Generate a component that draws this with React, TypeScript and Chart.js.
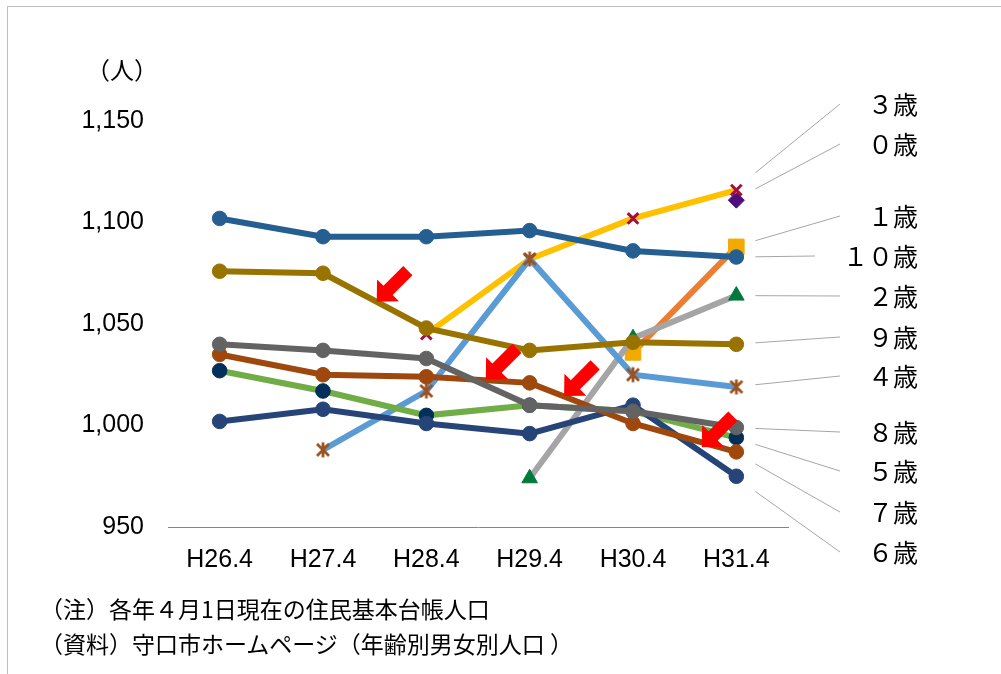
import React, { useEffect, useRef } from 'react';
import { Chart, registerables } from 'chart.js';

Chart.register(...registerables);

// ---- data ----
const categories = ['H26.4', 'H27.4', 'H28.4', 'H29.4', 'H30.4', 'H31.4'];
const age10 = [1102, 1093, 1093, 1096, 1086, 1083];
const age9 = [1076, 1075, 1048, 1037, 1041, 1040];
const age8 = [1040, 1037, 1033, 1010, 1007, 999];
const age7 = [1035, 1025, 1024, 1021, 1001, 987];
const age6 = [1002, 1008, 1001, 996, 1010, 975];
const age5 = [1027, 1017, 1005, 1010, 1007, 994];
const age4 = [null, 988, 1017, 1082, 1025, 1019];
const age3 = [null, null, 1045, 1082, 1102, 1116];
const age2 = [null, null, null, 974, 1043, 1064];
const age1 = [null, null, null, null, 1036, 1088];
const age0 = [null, null, null, null, null, 1111];

const yTicks = [950, 1000, 1050, 1100, 1150];

// end labels (text, which series) in the order they are stacked on the right
const endLabels = ['３歳', '０歳', '１歳', '１０歳', '２歳', '９歳', '４歳', '８歳', '５歳', '７歳', '６歳'];
const endLabelSeries = ['3歳', '0歳', '1歳', '10歳', '2歳', '9歳', '4歳', '8歳', '5歳', '7歳', '6歳'];

// red arrow annotations: tip position (category index, value)
const arrowCat = [1.52, 2.575, 3.333, 4.666];
const arrowVal = [1061, 1022.7, 1014.5, 989.3];

// ---- layout (pixels) ----
const LABEL_Y = [104, 144, 216, 256, 296, 337, 376, 432, 471, 512, 552];
const LABEL_RIGHT = 918;

function makeAsterisk(color: string) {
  const c = document.createElement('canvas');
  c.width = 18;
  c.height = 18;
  const g = c.getContext('2d')!;
  g.strokeStyle = color;
  g.lineWidth = 2.8;
  g.lineCap = 'butt';
  g.beginPath();
  g.moveTo(9, 1.5);
  g.lineTo(9, 16.5);
  g.moveTo(3, 3);
  g.lineTo(15, 15);
  g.moveTo(15, 3);
  g.lineTo(3, 15);
  g.stroke();
  return c;
}

function series(label: string, data: (number | null)[], lineColor: string, pointColor: string, pointStyle: any, radius: number, pbw = 1) {
  return {
    label,
    data,
    borderColor: lineColor,
    backgroundColor: pointColor,
    borderWidth: 6,
    pointStyle,
    pointRadius: radius,
    pointHoverRadius: radius,
    pointBackgroundColor: pointColor,
    pointBorderColor: pointColor,
    pointBorderWidth: pbw,
    tension: 0,
    fill: false,
  };
}

export default function App() {
  const ref = useRef<HTMLCanvasElement>(null);

  useEffect(() => {
    const asterisk = makeAsterisk('#9C5220');
    const datasets = [
      series('10歳', age10, '#255E91', '#255E91', 'circle', 7.3),
      series('9歳', age9, '#997300', '#997300', 'circle', 7.3),
      series('8歳', age8, '#636363', '#636363', 'circle', 7.3),
      series('7歳', age7, '#9E480E', '#9E480E', 'circle', 7.3),
      series('6歳', age6, '#264478', '#264478', 'circle', 7.3),
      series('5歳', age5, '#70AD47', '#022F5A', 'circle', 7.3),
      series('4歳', age4, '#5B9BD5', '#9C5220', asterisk, 9),
      series('3歳', age3, '#FFC000', '#A3103F', 'crossRot', 7.5, 3),
      series('2歳', age2, '#A5A5A5', '#00793A', 'triangle', 9),
      series('1歳', age1, '#ED7D31', '#F2A900', 'rect', 11),
      series('0歳', age0, '#7030A0', '#4E0C7C', 'rectRot', 8),
    ];

    const overlay = {
      id: 'overlay',
      afterDatasetsDraw(chart: any) {
        const { ctx, scales } = chart;
        const xs = scales.x;
        const ys = scales.y;
        ctx.save();
        // leader lines + labels
        const lastIdx = categories.length - 1;
        const px = xs.getPixelForValue(lastIdx);
        endLabels.forEach((txt, i) => {
          const dsIndex = datasets.findIndex((d) => d.label === endLabelSeries[i]);
          const v = datasets[dsIndex].data[lastIdx] as number;
          const py = ys.getPixelForValue(v);
          const ly = LABEL_Y[i];
          const sx = px + 19;
          const sy = py + 0.2 * (ly - py);
          ctx.font = '25px "Noto Sans CJK JP"';
          const w = ctx.measureText(txt).width;
          const ex = LABEL_RIGHT - w - 28;
          ctx.strokeStyle = '#A6A6A6';
          ctx.lineWidth = 1;
          ctx.beginPath();
          ctx.moveTo(sx, sy);
          ctx.lineTo(ex, ly);
          ctx.stroke();
          ctx.fillStyle = '#000';
          ctx.textAlign = 'right';
          ctx.textBaseline = 'middle';
          ctx.fillText(txt, LABEL_RIGHT, ly);
        });
        // red arrows
        const s = Math.SQRT1_2;
        const L = 44, hl = 16, hh = 15.5, sh = 6.5;
        arrowCat.forEach((c, i) => {
          const tx = xs.getPixelForValue(c);
          const ty = ys.getPixelForValue(arrowVal[i]);
          const ux = s, uy = -s, qx = s, qy = s;
          const P = (a: number, b: number) => [tx + ux * a + qx * b, ty + uy * a + qy * b];
          const pts = [P(0, 0), P(hl, hh), P(hl, sh), P(L, sh), P(L, -sh), P(hl, -sh), P(hl, -hh)];
          ctx.fillStyle = '#FF0000';
          ctx.beginPath();
          pts.forEach((p, k) => (k === 0 ? ctx.moveTo(p[0], p[1]) : ctx.lineTo(p[0], p[1])));
          ctx.closePath();
          ctx.fill();
        });
        ctx.restore();
      },
    };

    const chart = new Chart(ref.current!, {
      type: 'line',
      data: { labels: categories, datasets: datasets as any },
      options: {
        responsive: false,
        animation: false,
        devicePixelRatio: 1,
        layout: { padding: { left: 0, top: 121, right: 213, bottom: 87 } },
        plugins: { legend: { display: false }, tooltip: { enabled: false } },
        scales: {
          x: {
            offset: true,
            grid: { display: false, drawTicks: false },
            border: { display: true, color: '#868686', width: 1 },
            ticks: { color: '#000', font: { family: '"Liberation Sans", Arial', size: 25 }, padding: 18 },
            afterFit: (sc: any) => { sc.height = 60; },
          },
          y: {
            min: 950,
            max: 1150,
            grid: { display: false, drawTicks: false },
            border: { display: false },
            afterBuildTicks: (sc: any) => { sc.ticks = yTicks.map((v) => ({ value: v })); },
            ticks: {
              color: '#000',
              font: { family: '"Liberation Sans", Arial', size: 25 },
              padding: 24,
              callback: (v: any) => Number(v).toLocaleString('en-US'),
            },
            afterFit: (sc: any) => { sc.width = 168; },
          },
        },
      },
      plugins: [overlay],
    });
    return () => chart.destroy();
  }, []);

  const note = { position: 'absolute' as const, left: 40, font: '23px "Noto Sans CJK JP"', color: '#000', lineHeight: '36px', whiteSpace: 'nowrap' as const };

  return (
    <div style={{ position: 'absolute', left: 0, top: 0, width: 1001, height: 674, overflow: 'hidden', background: '#fff' }}>
      <div style={{ position: 'absolute', left: 7, top: 6, width: 1100, height: 800, borderLeft: '1px solid #BFBFBF', borderTop: '1px solid #BFBFBF' }} />
      <canvas ref={ref} width={1001} height={674} style={{ position: 'absolute', left: 0, top: 0 }} />
      <div style={{ position: 'absolute', left: 77, top: 52, width: 90, textAlign: 'center', font: '24px "Noto Sans CJK JP"', lineHeight: '34px', color: '#000' }}>（人）</div>
      <div style={{ ...note, top: 590 }}>（注）各年４月1日現在の住民基本台帳人口</div>
      <div style={{ ...note, top: 625 }}>（資料）守口市ホームページ（年齢別男女別人口 ）</div>
    </div>
  );
}
